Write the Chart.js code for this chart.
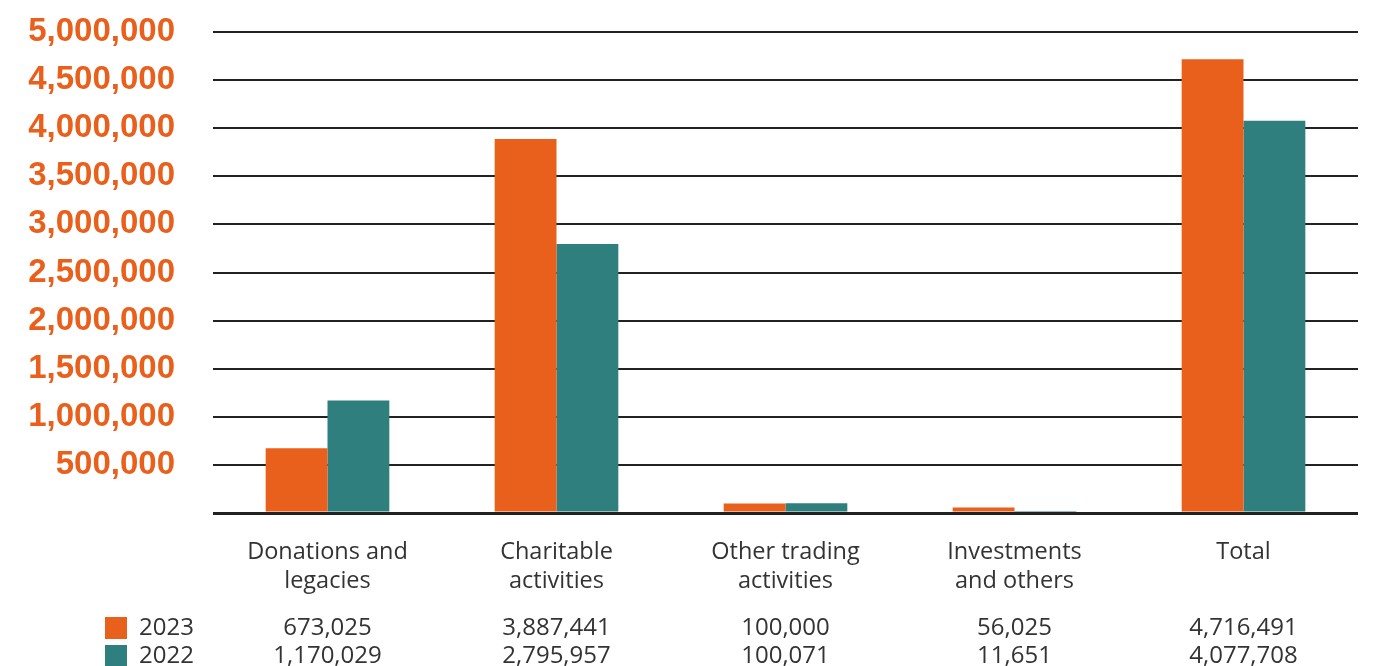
<!DOCTYPE html>
<html>
<head>
<meta charset="utf-8">
<script src="https://cdn.jsdelivr.net/npm/chart.js@4.4.1/dist/chart.umd.min.js"></script>
<style>
  html, body { margin: 0; padding: 0; background: #fff; }
  #wrap { width: 1373px; height: 666px; }
</style>
</head>
<body>
<div id="wrap"><canvas id="chart"></canvas></div>
<script>
const categories = [
    ['Donations and', 'legacies'],
    ['Charitable', 'activities'],
    ['Other trading', 'activities'],
    ['Investments', 'and others'],
    'Total'
];
const years = ['2023', '2022'];
const values2023 = [673025, 3887441, 100000, 56025, 4716491];
const values2022 = [1170029, 2795957, 100071, 11651, 4077708];
const colors = ['#e8601c', '#2e7f7e'];

const fmt = v => v.toLocaleString('en-US');

// draws the little table with legend squares under the chart
const tablePlugin = {
    id: 'valueTable',
    afterDraw(chart) {
        const ctx = chart.ctx;
        const xs = chart.scales.x;
        const rows = [values2023, values2022];
        const rowY = [628, 656];
        ctx.save();
        ctx.font = '24px "Open Sans"';
        ctx.textBaseline = 'middle';
        rows.forEach((vals, r) => {
            ctx.fillStyle = colors[r];
            ctx.fillRect(105, rowY[r] - 11, 22, 22);
            ctx.fillStyle = '#333';
            ctx.textAlign = 'left';
            ctx.fillText(years[r], 139, rowY[r]);
            ctx.textAlign = 'center';
            vals.forEach((v, i) => {
                ctx.fillText(fmt(v), xs.getPixelForValue(i), rowY[r]);
            });
        });
        ctx.restore();
    }
};

new Chart(document.getElementById('chart'), {
    type: 'bar',
    data: {
        labels: categories,
        datasets: [
            { label: years[0], data: values2023, backgroundColor: colors[0] },
            { label: years[1], data: values2022, backgroundColor: colors[1] }
        ]
    },
    options: {
        responsive: true,
        maintainAspectRatio: false,
        animation: false,
        layout: { padding: { top: 32, right: 15, bottom: 0, left: 0 } },
        datasets: {
            bar: { categoryPercentage: 0.54, barPercentage: 1.0 }
        },
        scales: {
            x: {
                grid: { display: false },
                border: { display: false },
                ticks: {
                    color: '#333',
                    font: { family: 'Open Sans', size: 23.5, lineHeight: 1.23 },
                    padding: 17,
                    maxRotation: 0,
                    autoSkip: false
                },
                afterFit(scale) { scale.height = 153; }
            },
            y: {
                min: 0,
                max: 5000000,
                border: { display: false },
                grid: {
                    color: '#222',
                    lineWidth: c => (c.tick && c.tick.value === 0 ? 3 : 2),
                    drawTicks: false
                },
                ticks: {
                    stepSize: 500000,
                    autoSkip: false,
                    color: '#e8601c',
                    font: { family: 'Liberation Sans', size: 33, weight: 'bold', lineHeight: 1 },
                    padding: 38,
                    callback: v => (v === 0 ? '' : fmt(v))
                },
                afterFit(scale) {
                    scale.width = 213;
                    scale.paddingTop = 0;
                    scale.paddingBottom = 0;
                }
            }
        },
        plugins: {
            legend: { display: false },
            tooltip: { enabled: false }
        }
    },
    plugins: [tablePlugin]
});
</script>
</body>
</html>
